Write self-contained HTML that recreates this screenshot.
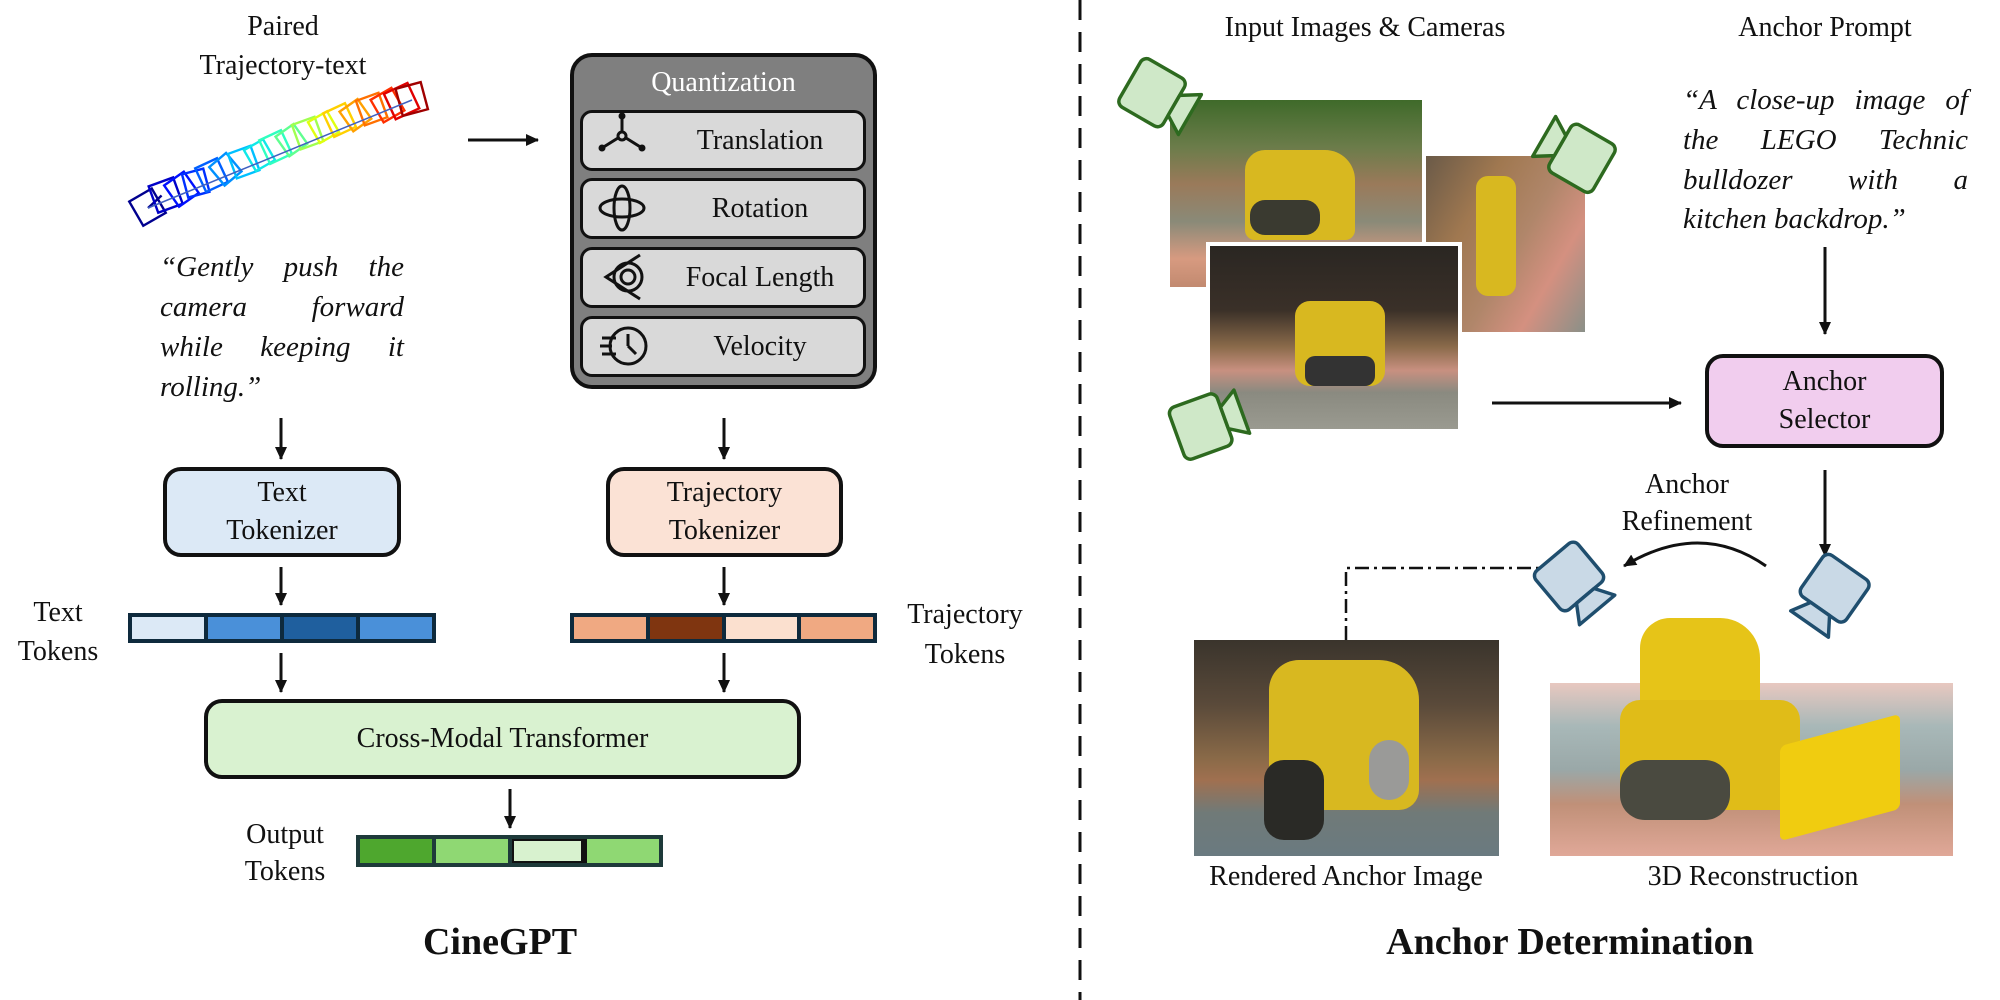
<!DOCTYPE html>
<html><head><meta charset="utf-8"><style>
body{margin:0;width:2000px;height:1000px;background:#fff;position:relative;overflow:hidden;font-family:"Liberation Serif",serif;color:#111}
.a{position:absolute}
.t{position:absolute;font-size:28px;text-align:center;line-height:38px;white-space:nowrap}
.box{position:absolute;border:4px solid #111;border-radius:18px;box-sizing:border-box;display:flex;align-items:center;justify-content:center;text-align:center;font-size:28px;line-height:38px}
.ib{position:absolute;left:580px;width:286px;height:61px;background:#d9d9d9;border:3px solid #111;border-radius:12px;box-sizing:border-box;font-size:28px}
.ib span{position:absolute;left:74px;right:0;top:0;bottom:0;display:flex;align-items:center;justify-content:center}
.bar{position:absolute;display:flex;border:4px solid #0e2a3d;box-sizing:border-box}
.bar div{flex:1;border-right:4px solid #0e2a3d}
.bar div:last-child{border-right:none}
.q{position:absolute;font-style:italic;font-size:29px;line-height:40px;text-align:justify;text-align-last:justify}
</style></head><body>

<svg class="a" style="left:0;top:0" width="2000" height="1000">
<defs>
<marker id="ah" markerWidth="14" markerHeight="14" refX="12" refY="6" orient="auto" markerUnits="userSpaceOnUse"><path d="M0,0 L13,6 L0,12 z" fill="#111"/></marker>
</defs>
<line x1="1080" y1="0" x2="1080" y2="1000" stroke="#111" stroke-width="3" stroke-dasharray="20,12"/>
<g stroke="#111" stroke-width="3" marker-end="url(#ah)">
<line x1="468" y1="140" x2="538" y2="140"/>
<line x1="281" y1="418" x2="281" y2="459"/>
<line x1="724" y1="418" x2="724" y2="459"/>
<line x1="281" y1="567" x2="281" y2="605"/>
<line x1="724" y1="567" x2="724" y2="605"/>
<line x1="281" y1="653" x2="281" y2="692"/>
<line x1="724" y1="653" x2="724" y2="692"/>
<line x1="510" y1="789" x2="510" y2="828"/>
<line x1="1825" y1="247" x2="1825" y2="334"/>
<line x1="1492" y1="403" x2="1681" y2="403"/>
<line x1="1825" y1="470" x2="1825" y2="556"/>
<path d="M1766,566 Q1700,520 1624,566" fill="none"/>
</g>
<path d="M1346,640 L1346,568 L1540,568" fill="none" stroke="#111" stroke-width="2.5" stroke-dasharray="14,5,3,5"/>
<g fill="none" stroke-width="2.4">
<g transform="translate(148,208) rotate(-30)" stroke="#00008f"><rect x="-13" y="-15" width="26" height="28"/><line x1="0" y1="0" x2="18" y2="-4"/></g>
<g transform="translate(166,196) rotate(-20)" stroke="#0000c8"><rect x="-13" y="-15" width="26" height="28"/></g>
<g transform="translate(182,190) rotate(-35)" stroke="#0010ff"><rect x="-12" y="-14" width="24" height="26"/></g>
<g transform="translate(196,184) rotate(-15)" stroke="#0030ff"><rect x="-11" y="-13" width="22" height="24"/></g>
<g transform="translate(212,176) rotate(-25)" stroke="#0060ff"><rect x="-12" y="-14" width="24" height="26"/></g>
<g transform="translate(226,170) rotate(-40)" stroke="#0090ff"><rect x="-11" y="-13" width="22" height="24"/></g>
<g transform="translate(244,163) rotate(-20)" stroke="#00c0ff"><rect x="-12" y="-14" width="24" height="26"/></g>
<g transform="translate(260,156) rotate(-30)" stroke="#10e8e8"><rect x="-11" y="-13" width="22" height="24"/></g>
<g transform="translate(276,148) rotate(-25)" stroke="#30ffc0"><rect x="-12" y="-14" width="24" height="26"/></g>
<g transform="translate(292,141) rotate(-35)" stroke="#60ff90"><rect x="-11" y="-13" width="22" height="24"/></g>
<g transform="translate(308,134) rotate(-20)" stroke="#a0ff50"><rect x="-12" y="-14" width="24" height="26"/></g>
<g transform="translate(324,128) rotate(-30)" stroke="#e0ff10"><rect x="-11" y="-13" width="22" height="24"/></g>
<g transform="translate(340,121) rotate(-25)" stroke="#ffd000"><rect x="-12" y="-14" width="24" height="26"/></g>
<g transform="translate(356,116) rotate(-35)" stroke="#ffa000"><rect x="-11" y="-13" width="22" height="24"/></g>
<g transform="translate(372,110) rotate(-20)" stroke="#ff7000"><rect x="-12" y="-14" width="24" height="26"/></g>
<g transform="translate(388,106) rotate(-30)" stroke="#ff3000"><rect x="-12" y="-14" width="24" height="26"/></g>
<g transform="translate(402,102) rotate(-25)" stroke="#e00000"><rect x="-13" y="-15" width="26" height="28"/></g>
<g transform="translate(412,100) rotate(-15)" stroke="#a00000"><rect x="-13" y="-15" width="26" height="28"/></g>
<line x1="148" y1="208" x2="412" y2="100" stroke="#4060c0" stroke-width="1.5"/>
</g>
</svg>

<div class="t" style="left:183px;top:8px;width:200px">Paired</div>
<div class="t" style="left:133px;top:47px;width:300px">Trajectory-text</div>
<div class="q" style="left:160px;top:247px;width:244px">“Gently push the<br>camera forward<br>while keeping it</div>
<div class="q" style="left:160px;top:367px;font-style:italic;text-align:left;text-align-last:left">rolling.”</div>

<div class="a" style="left:570px;top:53px;width:307px;height:336px;background:#7f7f7f;border:4px solid #111;border-radius:22px;box-sizing:border-box"></div>
<div class="t" style="left:570px;top:64px;width:307px;color:#fff">Quantization</div>
<div class="ib" style="top:110px"><span>Translation</span></div>
<div class="ib" style="top:178px"><span>Rotation</span></div>
<div class="ib" style="top:247px"><span>Focal Length</span></div>
<div class="ib" style="top:316px"><span>Velocity</span></div>
<svg class="a" style="left:590px;top:110px" width="70" height="270" fill="none" stroke="#111" stroke-width="3">
<g><circle cx="32" cy="26" r="4"/><line x1="32" y1="22" x2="32" y2="6"/><line x1="28" y1="28" x2="12" y2="38"/><line x1="36" y1="28" x2="52" y2="38"/><circle cx="32" cy="6" r="2" fill="#111"/><circle cx="12" cy="38" r="2" fill="#111"/><circle cx="52" cy="38" r="2" fill="#111"/></g>
<g transform="translate(0,68)"><ellipse cx="32" cy="30" rx="22" ry="9"/><ellipse cx="32" cy="30" rx="8" ry="22"/></g>
<g transform="translate(0,137)"><path d="M50,8 L16,30 L50,52"/><circle cx="38" cy="30" r="14"/><circle cx="38" cy="30" r="7"/></g>
<g transform="translate(0,206)"><circle cx="38" cy="30" r="18" /><line x1="38" y1="18" x2="38" y2="30"/><line x1="38" y1="30" x2="46" y2="38"/><line x1="12" y1="22" x2="26" y2="22"/><line x1="10" y1="30" x2="22" y2="30"/><line x1="12" y1="38" x2="26" y2="38"/></g>
</svg>

<div class="box" style="left:163px;top:467px;width:238px;height:90px;background:#dce9f6">Text<br>Tokenizer</div>
<div class="box" style="left:606px;top:467px;width:237px;height:90px;background:#fbe2d5">Trajectory<br>Tokenizer</div>

<div class="bar" style="left:128px;top:613px;width:308px;height:30px"><div style="background:#dce9f6"></div><div style="background:#4a90d9"></div><div style="background:#1f5f9e"></div><div style="background:#4a90d9"></div></div>
<div class="bar" style="left:570px;top:613px;width:307px;height:30px"><div style="background:#f0a982"></div><div style="background:#7f3510"></div><div style="background:#fbe0cf"></div><div style="background:#f0a982"></div></div>
<div class="t" style="left:8px;top:594px;width:100px">Text</div>
<div class="t" style="left:8px;top:633px;width:100px">Tokens</div>
<div class="t" style="left:895px;top:596px;width:140px">Trajectory</div>
<div class="t" style="left:895px;top:636px;width:140px">Tokens</div>

<div class="box" style="left:204px;top:699px;width:597px;height:80px;background:#d9f2d0">Cross-Modal Transformer</div>
<div class="bar" style="left:356px;top:835px;width:307px;height:32px;border-color:#1e3a3a"><div style="background:#4ea72e;border-color:#1e3a3a"></div><div style="background:#8fd873;border-color:#1e3a3a"></div><div style="background:#d8f2cf;border-color:#111;border-left:0;box-shadow:inset 0 0 0 2px #111"></div><div style="background:#8fd873"></div></div>
<div class="t" style="left:225px;top:816px;width:120px">Output</div>
<div class="t" style="left:225px;top:853px;width:120px">Tokens</div>
<div class="t" style="left:380px;top:920px;width:240px;font-weight:bold;font-size:38px;line-height:44px">CineGPT</div>

<div class="t" style="left:1215px;top:9px;width:300px">Input Images &amp; Cameras</div>
<div class="t" style="left:1705px;top:9px;width:240px">Anchor Prompt</div>
<div class="q" style="left:1683px;top:80px;width:285px">“A close-up image of<br>the LEGO Technic<br>bulldozer with a</div>
<div class="q" style="left:1683px;top:199px;text-align:left;text-align-last:left">kitchen backdrop.”</div>
<div class="box" style="left:1705px;top:354px;width:239px;height:94px;background:#f1cdee">Anchor<br>Selector</div>

<div class="a" style="left:1170px;top:100px;width:252px;height:187px;background:linear-gradient(180deg,#3f6a2a 0%,#6b7c4a 25%,#9a7a5a 45%,#8a8a78 65%,#d79a80 85%,#c28a70 100%)">
<div class="a" style="left:75px;top:50px;width:110px;height:90px;background:#d8b820;border-radius:20px 30px 10px 10px"></div>
<div class="a" style="left:80px;top:100px;width:70px;height:35px;background:#3a3a30;border-radius:15px"></div>
</div>
<div class="a" style="left:1426px;top:156px;width:159px;height:176px;background:linear-gradient(120deg,#6a5a48 0%,#a07850 30%,#b0866a 55%,#d49080 75%,#8a9088 100%)">
<div class="a" style="left:50px;top:20px;width:40px;height:120px;background:#d8b820;border-radius:12px"></div>
</div>
<div class="a" style="left:1206px;top:242px;width:256px;height:191px;background:#fff">
<div class="a" style="left:4px;top:4px;width:248px;height:183px;background:linear-gradient(180deg,#2a2622 0%,#3a3028 35%,#8a6a4a 55%,#c89080 68%,#8a8a80 80%,#9a9a90 100%)">
<div class="a" style="left:85px;top:55px;width:90px;height:85px;background:#d8b820;border-radius:15px"></div>
<div class="a" style="left:95px;top:110px;width:70px;height:30px;background:#333;border-radius:10px"></div>
</div></div>

<div class="a" style="left:1194px;top:640px;width:305px;height:216px;background:linear-gradient(180deg,#3a342c 0%,#5a4a3a 30%,#8a6a48 55%,#a07050 65%,#707a78 80%,#6a7a80 100%)">
<div class="a" style="left:75px;top:20px;width:150px;height:150px;background:#d8b820;border-radius:30px 40px 20px 20px"></div>
<div class="a" style="left:70px;top:120px;width:60px;height:80px;background:#2a2a26;border-radius:20px"></div>
<div class="a" style="left:175px;top:100px;width:40px;height:60px;background:#9a9a98;border-radius:20px"></div>
</div>
<div class="a" style="left:1550px;top:683px;width:403px;height:173px;background:linear-gradient(180deg,#e8c8c0 0%,#a8b8b8 25%,#9aa8a8 50%,#c09078 70%,#e0a898 100%)"></div>
<div class="a" style="left:1640px;top:618px;width:120px;height:120px;background:#e6c418;border-radius:30px 40px 10px 10px"></div>
<div class="a" style="left:1620px;top:700px;width:180px;height:110px;background:#e0bc18;border-radius:20px"></div>
<div class="a" style="left:1620px;top:760px;width:110px;height:60px;background:#4a4a40;border-radius:25px"></div>
<div class="a" style="left:1780px;top:730px;width:120px;height:95px;background:#f0cc10;transform:skewY(-15deg);border-radius:6px"></div>

<div class="t" style="left:1196px;top:858px;width:300px">Rendered Anchor Image</div>
<div class="t" style="left:1633px;top:858px;width:240px">3D Reconstruction</div>
<div class="t" style="left:1620px;top:466px;width:134px">Anchor</div>
<div class="t" style="left:1610px;top:503px;width:154px">Refinement</div>
<div class="t" style="left:1370px;top:920px;width:400px;font-weight:bold;font-size:38px;line-height:44px">Anchor Determination</div>

<svg class="a" style="left:0;top:0" width="2000" height="1000" stroke-width="3" stroke-linejoin="round">
<g fill="#cfe8c8" stroke="#2d6a1f">
<g transform="translate(1156,95) rotate(30) scale(1.15)"><rect x="-26" y="-24" width="44" height="48" rx="6"/><path d="M18,-10 L34,-20 L34,20 L18,10z"/></g>
<g transform="translate(1578,156) rotate(-150) scale(1.15)"><rect x="-26" y="-24" width="44" height="48" rx="6"/><path d="M18,-10 L34,-20 L34,20 L18,10z"/></g>
<g transform="translate(1205,425) rotate(-20) scale(1.15)"><rect x="-26" y="-24" width="44" height="48" rx="6"/><path d="M18,-10 L34,-20 L34,20 L18,10z"/></g>
</g>
<g fill="#c9d9e6" stroke="#1f4e6e">
<g transform="translate(1572,580) rotate(50) scale(1.15)"><rect x="-26" y="-24" width="44" height="48" rx="6"/><path d="M18,-10 L34,-20 L34,20 L18,10z"/></g>
<g transform="translate(1832,592) rotate(125) scale(1.15)"><rect x="-26" y="-24" width="44" height="48" rx="6"/><path d="M18,-10 L34,-20 L34,20 L18,10z"/></g>
</g>
</svg>
</body></html>
